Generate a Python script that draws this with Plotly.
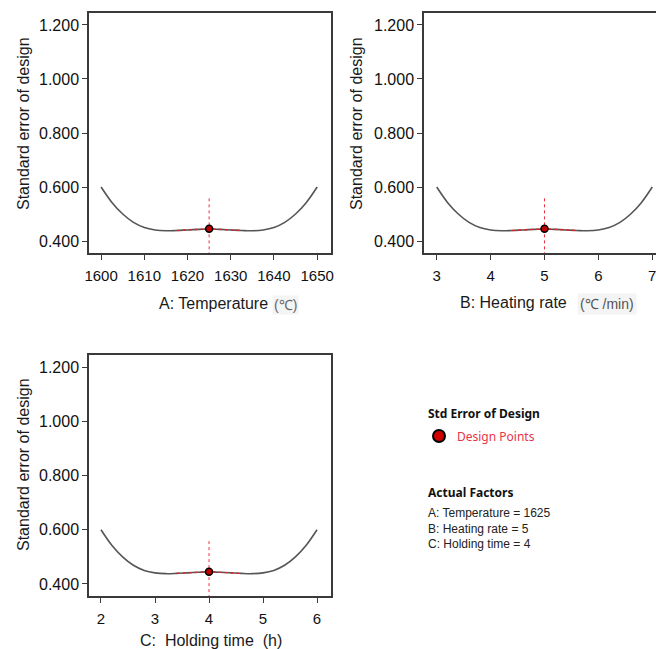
import plotly.graph_objects as go

W, H = 656, 649

# ---- data ----
temperature = [1600, 1602.5, 1605, 1607.5, 1610, 1612.5, 1615, 1617.5, 1620, 1622.5, 1625,
               1627.5, 1630, 1632.5, 1635, 1637.5, 1640, 1642.5, 1645, 1647.5, 1650]
heating_rate = [3.0, 3.2, 3.4, 3.6, 3.8, 4.0, 4.2, 4.4, 4.6, 4.8, 5.0,
                5.2, 5.4, 5.6, 5.8, 6.0, 6.2, 6.4, 6.6, 6.8, 7.0]
holding_time = [2.0, 2.2, 2.4, 2.6, 2.8, 3.0, 3.2, 3.4, 3.6, 3.8, 4.0,
                4.2, 4.4, 4.6, 4.8, 5.0, 5.2, 5.4, 5.6, 5.8, 6.0]
std_error = [0.600, 0.543, 0.500, 0.469, 0.450, 0.441, 0.438, 0.439, 0.441, 0.443, 0.445,
             0.443, 0.441, 0.439, 0.438, 0.441, 0.450, 0.469, 0.500, 0.543, 0.600]
design_x = [1625, 5, 4]
design_se = 0.445
cross_top = 0.558
y_ticks = [0.4, 0.6, 0.8, 1.0, 1.2]
temp_ticks = [1600, 1610, 1620, 1630, 1640, 1650]
rate_ticks = [3, 4, 5, 6, 7]
hold_ticks = [2, 3, 4, 5, 6]
factors = ["A: Temperature = 1625", "B: Heating rate = 5", "C: Holding time = 4"]

Y_RANGE = [0.3556, 1.2444]
RED_LO, RED_HI = 7, 13  # index span of red highlighted segment


def X(px):
    return px / W


def Y(py):
    return 1 - py / H


fig = go.Figure()

panels = [
    ("x", "y", temperature),
    ("x2", "y2", heating_rate),
    ("x3", "y3", holding_time),
]
for i, (xa, ya, xs) in enumerate(panels):
    fig.add_trace(go.Scatter(x=xs, y=std_error, mode="lines", xaxis=xa, yaxis=ya,
                             line=dict(color="#555555", width=1.6, shape="spline"),
                             hoverinfo="skip", showlegend=False))
    fig.add_trace(go.Scatter(x=xs[RED_LO:RED_HI + 1], y=std_error[RED_LO:RED_HI + 1],
                             mode="lines", xaxis=xa, yaxis=ya,
                             line=dict(color="#e8202a", width=1.3, dash="dot", shape="spline"),
                             hoverinfo="skip", showlegend=False))
    fig.add_trace(go.Scatter(x=[design_x[i], design_x[i]], y=[cross_top, Y_RANGE[0]],
                             mode="lines", xaxis=xa, yaxis=ya,
                             line=dict(color="#f03040", width=1, dash="dot"),
                             hoverinfo="skip", showlegend=False))
    fig.add_trace(go.Scatter(x=[design_x[i]], y=[design_se], mode="markers",
                             xaxis=xa, yaxis=ya,
                             marker=dict(color="#c00000", size=7,
                                         line=dict(color="black", width=1.5)),
                             hoverinfo="skip", showlegend=False))

axcommon = dict(showline=True, linecolor="#3a3a3a", linewidth=1.5, ticks="outside",
                ticklen=5, tickwidth=1, tickcolor="#3a3a3a", showgrid=False,
                zeroline=False, automargin=False, ticklabeloverflow="allow",
                tickfont=dict(family="Liberation Sans, Arial", size=15, color="#111111"))
ycommon = dict(axcommon, range=Y_RANGE, tickvals=y_ticks, tickformat=".3f",
               tickfont=dict(family="Liberation Sans, Arial", size=16, color="#111111"))

fig.update_layout(
    width=W, height=H, margin=dict(l=0, r=0, t=0, b=0),
    paper_bgcolor="white", plot_bgcolor="white", showlegend=False,
    xaxis=dict(axcommon, domain=[X(89), X(331)], range=[1597.2, 1653.2],
               tickvals=temp_ticks, anchor="y", mirror=True, ticklabelstandoff=3),
    yaxis=dict(ycommon, domain=[Y(253), Y(13)], anchor="x", mirror=True),
    xaxis2=dict(axcommon, domain=[X(424), 1.0], range=[2.764, 7.069],
                tickvals=rate_ticks, anchor="y2", mirror=True, ticklabelstandoff=3),
    yaxis2=dict(ycommon, domain=[Y(253), Y(13)], anchor="x2", mirror=False),
    xaxis3=dict(axcommon, domain=[X(89), X(331)], range=[1.778, 6.259],
                tickvals=hold_ticks, anchor="y3", mirror=True, ticklabelstandoff=3),
    yaxis3=dict(ycommon, domain=[Y(596), Y(355)], anchor="x3", mirror=True),
)

ann = []
tfont = dict(family="Liberation Sans, Arial", size=16, color="#1a1a1a")
# y-axis titles
for xc, yc in [(23, 124), (356, 124), (23, 465)]:
    ann.append(dict(x=X(xc), y=Y(yc), xref="paper", yref="paper", text="Standard error of design",
                    textangle=-90, showarrow=False, font=tfont, xanchor="center", yanchor="middle"))
# x-axis titles
ann.append(dict(x=X(157), y=Y(304), xref="paper", yref="paper", text="A: Temperature",
                showarrow=False, font=tfont, xanchor="left", yanchor="middle"))
ann.append(dict(x=X(285), y=Y(305), xref="paper", yref="paper", text="(℃)",
                showarrow=False, font=dict(family="Liberation Sans, Arial", size=14, color="#666666"),
                bgcolor="#f4f4f4", borderpad=1, xanchor="center", yanchor="middle"))
ann.append(dict(x=X(458), y=Y(302), xref="paper", yref="paper", text="B: Heating rate",
                showarrow=False, font=tfont, xanchor="left", yanchor="middle"))
ann.append(dict(x=X(607), y=Y(304), xref="paper", yref="paper", text="(℃ /min)",
                showarrow=False, font=dict(family="Liberation Sans, Arial", size=14, color="#555555"),
                bgcolor="#f4f4f4", borderpad=2, xanchor="center", yanchor="middle"))
ann.append(dict(x=X(138), y=Y(640), xref="paper", yref="paper",
                text="C:\u00a0 Holding time\u00a0 (h)",
                showarrow=False, font=tfont, xanchor="left", yanchor="middle"))

# legend block
lfont_b = dict(family="Noto Sans", size=12, color="#111111")
ann.append(dict(x=X(426), y=Y(413), xref="paper", yref="paper", text="<b>Std Error of Design</b>",
                showarrow=False, font=lfont_b, xanchor="left", yanchor="middle"))
ann.append(dict(x=X(455), y=Y(436), xref="paper", yref="paper", text="Design Points",
                showarrow=False, font=dict(family="Noto Sans", size=12, color="#e8334a"),
                xanchor="left", yanchor="middle"))
ann.append(dict(x=X(426), y=Y(492), xref="paper", yref="paper", text="<b>Actual Factors</b>",
                showarrow=False, font=lfont_b, xanchor="left", yanchor="middle"))
for k, t in enumerate(factors):
    ann.append(dict(x=X(426), y=Y(513 + 15.5 * k), xref="paper", yref="paper", text=t,
                    showarrow=False, font=dict(family="Liberation Sans, Arial", size=12, color="#222222"),
                    xanchor="left", yanchor="middle"))
fig.update_layout(annotations=ann)

fig.add_shape(type="circle", xref="paper", yref="paper",
              x0=X(433), x1=X(445), y0=Y(442), y1=Y(430),
              fillcolor="#d00000", line=dict(color="black", width=2))

fig.write_html("out.html", config={"displayModeBar": False},
               post_script="document.body.style.margin='0px';document.body.style.overflow='hidden';")
